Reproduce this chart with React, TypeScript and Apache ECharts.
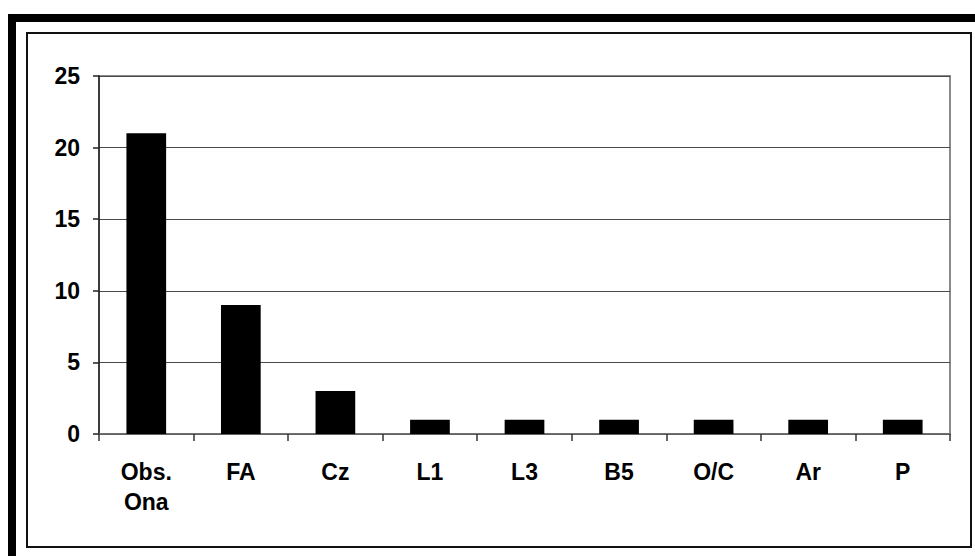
import React, { useEffect, useRef } from "react";
import * as echarts from "echarts";

const categories = ["Obs.\nOna", "FA", "Cz", "L1", "L3", "B5", "O/C", "Ar", "P"];
const values = [21, 9, 3, 1, 1, 1, 1, 1, 1];
const yMin = 0;
const yMax = 25;
const yStep = 5;

export default function App() {
  const ref = useRef<HTMLDivElement>(null);
  useEffect(() => {
    if (!ref.current) return;
    const chart = echarts.init(ref.current, null, { renderer: "svg" });
    const font = "'Liberation Sans', Arial, sans-serif";
    chart.setOption({
      animation: false,
      backgroundColor: "#ffffff",
      grid: {
        left: 99,
        top: 76,
        right: 25,
        bottom: 122,
        show: true,
        borderColor: "#8a8a8a",
        borderWidth: 2,
        backgroundColor: "transparent",
      },
      xAxis: {
        type: "category",
        data: categories,
        axisLine: { lineStyle: { color: "#6a6a6a", width: 1.5 } },
        axisTick: { show: true, alignWithLabel: false, length: 7, lineStyle: { color: "#333", width: 1.5 } },
        axisLabel: {
          color: "#000",
          fontFamily: font,
          fontWeight: "bold",
          fontSize: 23,
          lineHeight: 30,
          margin: 23,
          interval: 0,
        },
        splitLine: { show: false },
      },
      yAxis: {
        type: "value",
        min: yMin,
        max: yMax,
        interval: yStep,
        axisLine: { show: true, lineStyle: { color: "#222", width: 1.5 } },
        axisTick: { show: true, length: 6, lineStyle: { color: "#222", width: 1.5 } },
        axisLabel: {
          color: "#000",
          fontFamily: font,
          fontWeight: "bold",
          fontSize: 23,
          margin: 19,
        },
        splitLine: { show: true, lineStyle: { color: "#4a4a4a", width: 1 } },
      },
      graphic: [
        {
          type: "rect",
          shape: { x: 12, y: 18, width: 1100, height: 700 },
          style: { fill: "none", stroke: "#000", lineWidth: 8 },
          silent: true,
          z: 100,
        },
        {
          type: "rect",
          shape: { x: 27, y: 33, width: 944, height: 514 },
          style: { fill: "none", stroke: "#111", lineWidth: 2 },
          silent: true,
          z: 100,
        },
      ],
      series: [
        {
          type: "bar",
          data: values,
          barWidth: "42%",
          itemStyle: { color: "#000" },
          z: 3,
        },
      ],
    });
    return () => chart.dispose();
  }, []);
  return (
    <div
      ref={ref}
      style={{ position: "absolute", left: 0, top: 0, width: 975, height: 556 }}
    />
  );
}
